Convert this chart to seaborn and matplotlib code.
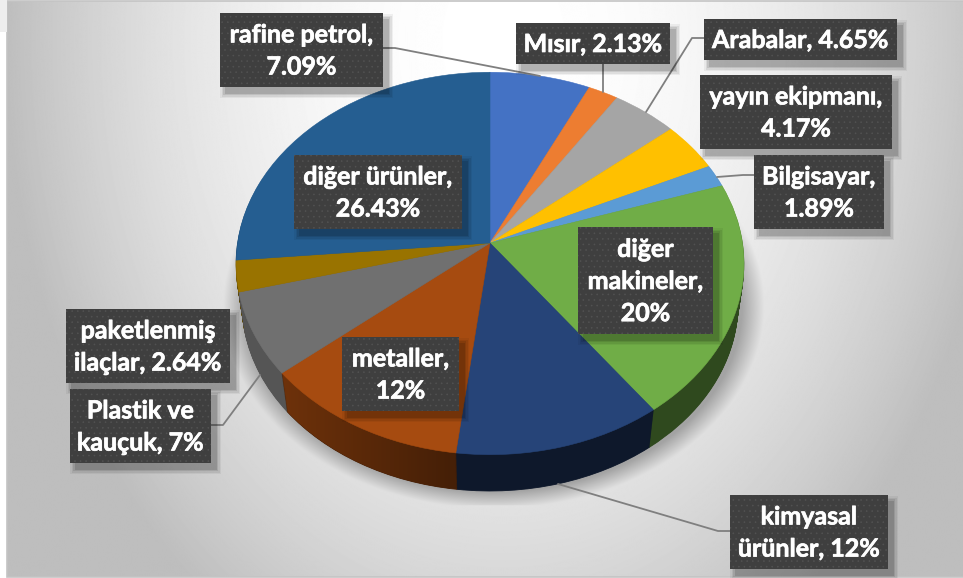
#!/usr/bin/env python3
import numpy as np
import seaborn as sns
import matplotlib
matplotlib.use('Agg')
import matplotlib.pyplot as plt
import matplotlib.patheffects as pe
from matplotlib.patches import Rectangle
from matplotlib.transforms import Affine2D, Transform

# slices, clockwise from the top
categories = ['rafine petrol', 'Mısır', 'Arabalar', 'yayın ekipmanı', 'Bilgisayar', 'diğer makineler',
              'kimyasal ürünler', 'metaller', 'Plastik ve kauçuk', 'paketlenmiş ilaçlar', 'diğer ürünler']
shares = [7.09, 2.13, 4.65, 4.17, 1.89, 20, 12, 12, 7, 2.64, 26.43]
labels = ['rafine petrol,\n7.09%', 'Mısır, 2.13%', 'Arabalar, 4.65%', 'yayın ekipmanı,\n4.17%',
          'Bilgisayar,\n1.89%', 'diğer\nmakineler,\n20%', 'kimyasal\nürünler, 12%', 'metaller,\n12%',
          'Plastik ve\nkauçuk, 7%', 'paketlenmiş\nilaçlar, 2.64%', 'diğer ürünler,\n26.43%']

slice_colors = ['#4472C4', '#ED7D31', '#A5A5A5', '#FFC000', '#5B9BD5', '#70AD47',
                '#264478', '#A64B10', '#707070', '#997300', '#255E91']
wall_shade = [.5, .5, .5, .5, .5, .42, .36, .42, .76, .6, .5]

# label boxes, in pixels: left, top, right, bottom
boxes = [(220, 13, 383, 87), (516, 23, 670, 64), (704, 19, 897, 60), (700, 75, 892, 149),
         (754, 155, 884, 229), (578, 227, 713, 334), (730, 495, 888, 569), (342, 337, 459, 411),
         (70, 389, 211, 463), (66, 309, 230, 383), (294, 155, 462, 229)]

leaders = [[(383, 48), (395, 48), (540, 76)],
           [(603, 64), (603, 92)],
           [(704, 38), (692, 38), (646, 112)],
           [(754, 175), (743, 175), (717, 177)],
           [(211, 425), (223, 425), (260, 375)],
           [(730, 531), (718, 531), (558, 484)]]

W, H = 963, 578
APEX = (490, 243)
WALL = 42


class Tilt(Transform):
    # unit pie to pixels, with the perspective of the tilted disc
    input_dims = output_dims = 2
    is_separable = False
    has_inverse = False

    def transform_non_affine(self, xy):
        xy = np.asarray(xy, dtype=float)
        w = 1 + .107 * xy[:, 1]
        return np.column_stack([APEX[0] + 252.5 * xy[:, 0] / w, APEX[1] - 189 * xy[:, 1] / w])


sns.set_theme(style='white')
plt.rcParams['font.family'] = ['Lato', 'DejaVu Sans']
palette = sns.color_palette(slice_colors)

fig = plt.figure(figsize=(W / 100, H / 100), dpi=100)
ax = fig.add_axes([0, 0, 1, 1])

#
# Background and the soft shadow under the pie

yy, xx = np.mgrid[0:H, 0:W]
bg = 255 - 65 * (((xx - 500) / 500) ** 2 + .61 * ((yy - 40) / 540) ** 2)
bg = np.maximum(bg, 190)
d = np.hypot((xx - 490) / 250, (yy - 305) / 187)
shadow = .28 * np.clip((1.09 - d) / .09, 0, 1) * np.clip((yy - 205) / 40, 0, 1) * (yy < 506)
bg = bg * (1 - shadow)
ax.imshow(bg, cmap='gray', vmin=0, vmax=255, extent=(7, W, 577, 1), zorder=0, interpolation='bilinear')
ax.add_patch(Rectangle((7, 1), W, 576, fill=False, ec='#C4C4C4', lw=1.2, zorder=1))
ax.add_patch(Rectangle((0, 0), 6.5, 32, fc='#EEEEEE', lw=0, zorder=1))

#
# The side wall: the same pie stacked down, shrinking slightly with depth

metal = categories.index('metaller')
# the metal wall goes from lighter on the left to its base shade on the right
ramp = np.ones((2, 256, 3)) * np.array(palette[metal])
ramp = ramp * np.linspace(.68, wall_shade[metal], 256)[None, :, None]

wall_colors = [tuple(c * s for c in col) for col, s in zip(palette, wall_shade)]
for z, step in enumerate(np.arange(WALL, 0, -1)):
    wedges, _ = ax.pie(shares, colors=wall_colors, startangle=90, counterclock=False,
                       radius=1 - .024 * step / WALL)
    tr = Tilt() + Affine2D().translate(0, step) + ax.transData
    for w in wedges:
        w.set_transform(tr)
        w.set_zorder(2 + z * .001)
        w.set_edgecolor(w.get_facecolor())
        w.set_linewidth(.6)
    im = ax.imshow(ramp, extent=(270, 450, 500, 370), zorder=3 + z * .001, interpolation='bilinear')
    im.set_clip_path(wedges[metal])

tops, _ = ax.pie(shares, colors=palette, startangle=90, counterclock=False)
for w in tops:
    w.set_transform(Tilt() + ax.transData)
    w.set_zorder(4)
    w.set_edgecolor(w.get_facecolor())
    w.set_linewidth(.4)

ax.set_aspect('auto')
ax.set_xlim(0, W)
ax.set_ylim(H, 0)
ax.axis('off')

#
# Leader lines and label boxes

for pts in leaders:
    xs, ys = zip(*pts)
    ax.plot(xs, ys, color='#7F7F7F', lw=1.3, zorder=5, solid_joinstyle='round')

plt.rcParams['hatch.linewidth'] = .4
for label, (x0, y0, x1, y1) in zip(labels, boxes):
    for grow, alpha in [(5, .05), (3.5, .07), (2, .09), (.5, .12)]:
        ax.add_patch(Rectangle((x0 + 5 - grow, y0 + 6 - grow), x1 - x0 + 2 * grow, y1 - y0 + 2 * grow,
                               fc='black', alpha=alpha, lw=0, zorder=6))
    ax.add_patch(Rectangle((x0, y0), x1 - x0, y1 - y0, fc='#3F3F3F', ec='#525252', hatch='...', lw=0, zorder=7))
    ax.text((x0 + x1) / 2, (y0 + y1) / 2 + 1, label, color='white', fontsize=18, fontweight='bold',
            ha='center', va='center', linespacing=1.48, zorder=8,
            path_effects=[pe.withStroke(linewidth=.5, foreground='white')])

fig.savefig('out.png', dpi=100)
